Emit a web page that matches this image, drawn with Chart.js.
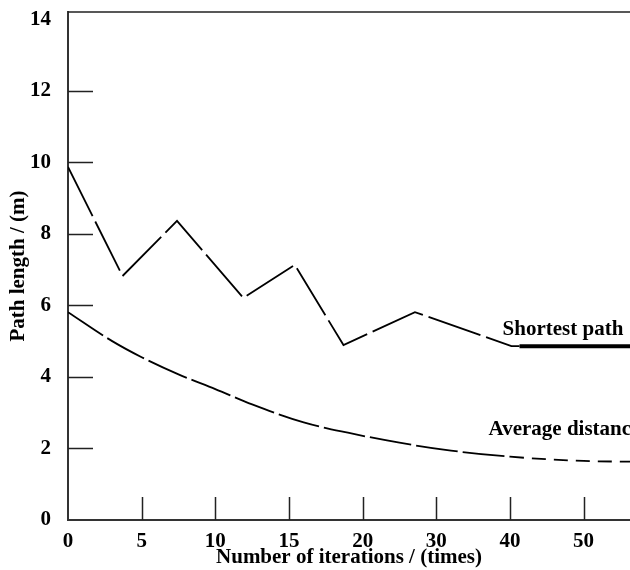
<!DOCTYPE html>
<html lang="en">
<head>
<meta charset="UTF-8">
<title>Path length vs iterations</title>
<script src="https://cdn.jsdelivr.net/npm/chart.js@4.4.1/dist/chart.umd.min.js"></script>
<style>
  html, body { margin: 0; padding: 0; background: #fff; }
  .chart-container { width: 630px; height: 570px; }
</style>
</head>
<body>
<div class="chart-container"><canvas id="pathChart"></canvas></div>
<script>
// x axis is not linear: 0..20 by 5, then 30, 40, 50 at the same spacing
const xTickLabels = ['0', '5', '10', '15', '20', '30', '40', '50'];
const yTickValues = [0, 2, 4, 6, 8, 10, 12, 14];

// shortest path (iterations, metres)
const shortestIter = [0, 3.7, 7.4, 11.9, 15.4, 18.7, 27.1, 40.2, 41.3, 56.3];
const shortestLen  = [9.87, 6.82, 8.36, 6.21, 7.13, 4.89, 5.81, 4.86, 4.86, 4.86];
const convergeIter = 41.3; // from here the line is drawn bold

// average distance (iterations, metres)
const averageIter = [0, 3, 5, 7.5, 10, 12.5, 16, 19, 25, 32, 40, 50, 56.3];
const averageLen  = [5.81, 5.0, 4.55, 4.07, 3.66, 3.23, 2.73, 2.44, 2.16, 1.94, 1.77, 1.65, 1.63];

const curveLabels = [
  { text: 'Shortest path',    iter: 39,   len: 5.31 },
  { text: 'Average distance', iter: 37.1, len: 2.52 }
];

const serif = "'Liberation Serif', 'Times New Roman', serif";
const fontSize = 21;

function iterToPos(n) {
  return n <= 20 ? n / 5 : 4 + (n - 20) / 10;
}

function points(xs, ys) {
  return xs.map((n, i) => ({ x: iterToPos(n), y: ys[i] }));
}

// inward tick marks, top frame line and the curve labels
const axisMarks = {
  id: 'axisMarks',
  afterDraw(chart) {
    const { ctx, chartArea: a, scales: { x, y } } = chart;
    ctx.save();
    ctx.strokeStyle = '#222';
    ctx.lineWidth = 1.5;
    ctx.beginPath();
    ctx.moveTo(a.left, a.top);
    ctx.lineTo(a.right, a.top);
    x.ticks.forEach(t => {
      if (t.value === 0) return;
      const px = Math.round(x.getPixelForValue(t.value)) + 0.5;
      ctx.moveTo(px, a.bottom);
      ctx.lineTo(px, a.bottom - 23);
    });
    y.ticks.forEach(t => {
      if (t.value === 0 || t.value === 14) return;
      const py = Math.round(y.getPixelForValue(t.value)) + 0.5;
      ctx.moveTo(a.left, py);
      ctx.lineTo(a.left + 25, py);
    });
    ctx.stroke();

    ctx.fillStyle = '#000';
    ctx.font = 'bold ' + fontSize + 'px ' + serif;
    ctx.textBaseline = 'middle';
    ctx.textAlign = 'left';
    curveLabels.forEach(l => {
      ctx.fillText(l.text, x.getPixelForValue(iterToPos(l.iter)), y.getPixelForValue(l.len));
    });
    ctx.restore();
  }
};

const boldAt = iterToPos(convergeIter) - 1e-6;

new Chart(document.getElementById('pathChart'), {
  type: 'line',
  data: {
    datasets: [{
      label: 'Shortest path',
      data: points(shortestIter, shortestLen),
      borderColor: '#000',
      borderWidth: 1.8,
      borderDash: [55, 6],
      pointRadius: 0,
      tension: 0,
      segment: {
        borderWidth: c => c.p0.parsed.x >= boldAt ? 4 : 1.8,
        borderDash: c => c.p0.parsed.x >= boldAt ? [] : [55, 6]
      }
    }, {
      label: 'Average distance',
      data: points(averageIter, averageLen),
      borderColor: '#000',
      borderWidth: 1.8,
      borderDash: [42, 5],
      pointRadius: 0,
      cubicInterpolationMode: 'monotone',
      segment: {
        borderDash: c => c.p0.parsed.x >= iterToPos(40) ? [14, 8] : [42, 5]
      }
    }]
  },
  options: {
    responsive: true,
    maintainAspectRatio: false,
    animation: false,
    layout: { autoPadding: false, padding: { top: 12, right: 0, bottom: 0, left: 0 } },
    plugins: { legend: { display: false }, tooltip: { enabled: false } },
    scales: {
      x: {
        type: 'linear',
        min: 0,
        max: iterToPos(56.3),
        afterBuildTicks: s => { s.ticks = xTickLabels.map((_, i) => ({ value: i })); },
        afterFit: s => { s.height = 50; s.paddingLeft = 0; s.paddingRight = 0; },
        grid: { display: false, drawTicks: false },
        border: { display: true, color: '#333', width: 2 },
        ticks: {
          color: '#000',
          padding: 9,
          font: { family: serif, size: fontSize, weight: 'bold' },
          callback: (v, i) => xTickLabels[i]
        },
        title: {
          display: true,
          text: 'Number of iterations / (times)',
          color: '#000',
          padding: { top: 0, bottom: 0 },
          font: { family: serif, size: fontSize, weight: 'bold' }
        }
      },
      y: {
        min: 0,
        max: 14.2,
        afterBuildTicks: s => { s.ticks = yTickValues.map(v => ({ value: v })); },
        afterFit: s => { s.width = 68; s.paddingTop = 0; s.paddingBottom = 0; },
        grid: { display: false, drawTicks: false },
        border: { display: true, color: '#333', width: 2 },
        ticks: {
          color: '#000',
          padding: 17,
          font: { family: serif, size: fontSize, weight: 'bold' }
        },
        title: {
          display: true,
          text: 'Path length / (m)',
          color: '#000',
          padding: { top: 6, bottom: 0 },
          font: { family: serif, size: fontSize, weight: 'bold' }
        }
      }
    }
  },
  plugins: [axisMarks]
});
</script>
</body>
</html>
